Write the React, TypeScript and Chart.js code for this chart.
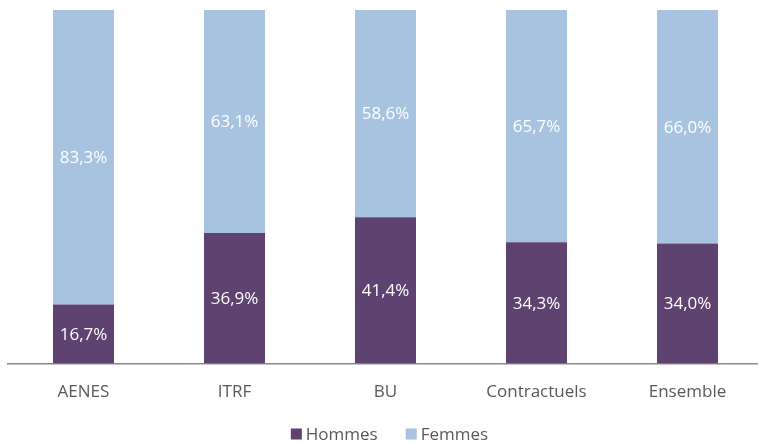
import React, { useEffect, useRef } from "react";
import { Chart, registerables } from "chart.js";

Chart.register(...registerables);

const categories = ["AENES", "ITRF", "BU", "Contractuels", "Ensemble"];
const hommes = [16.7, 36.9, 41.4, 34.3, 34.0];
const femmes = [83.3, 63.1, 58.6, 65.7, 66.0];
const seriesNames = ["Hommes", "Femmes"];

const FONT = "'Open Sans', 'DejaVu Sans', sans-serif";

const valueLabels = {
  id: "valueLabels",
  afterDatasetsDraw(chart: any) {
    const ctx = chart.ctx;
    ctx.save();
    ctx.font = `17px ${FONT}`;
    ctx.fillStyle = "#ffffff";
    ctx.textAlign = "center";
    ctx.textBaseline = "middle";
    chart.data.datasets.forEach((ds: any, di: number) => {
      const meta = chart.getDatasetMeta(di);
      meta.data.forEach((bar: any, i: number) => {
        const v = ds.data[i] as number;
        const { x, y, base } = bar.getProps(["x", "y", "base"], true);
        const txt = v.toFixed(1).replace(".", ",") + "%";
        ctx.fillText(txt, x, (y + base) / 2 + 1);
      });
    });
    ctx.restore();
  },
};

const bottomLegend = {
  id: "bottomLegend",
  afterDraw(chart: any) {
    const ctx = chart.ctx;
    const box = 11;
    const gapText = 4;
    const gapItem = 28;
    ctx.save();
    ctx.font = `17px ${FONT}`;
    ctx.textBaseline = "middle";
    ctx.textAlign = "left";
    const items = chart.data.datasets.map((ds: any) => ({
      label: ds.label as string,
      color: ds.backgroundColor as string,
      w: ctx.measureText(ds.label).width,
    }));
    const total =
      items.reduce((s: number, it: any) => s + box + gapText + it.w, 0) +
      gapItem * (items.length - 1);
    const ca = chart.chartArea;
    let x = (ca.left + ca.right) / 2 + 4 - total / 2;
    const y = 434;
    items.forEach((it: any) => {
      ctx.fillStyle = it.color;
      ctx.fillRect(x, y - box / 2, box, box);
      ctx.fillStyle = "#595959";
      ctx.fillText(it.label, x + box + gapText, y + 1);
      x += box + gapText + it.w + gapItem;
    });
    ctx.restore();
  },
};

export default function App() {
  const ref = useRef<HTMLCanvasElement | null>(null);
  useEffect(() => {
    if (!ref.current) return;
    const chart = new Chart(ref.current, {
      type: "bar",
      data: {
        labels: categories,
        datasets: [
          {
            label: seriesNames[0],
            data: hommes,
            backgroundColor: "#5E4270",
            barPercentage: 0.404,
            categoryPercentage: 1,
          },
          {
            label: seriesNames[1],
            data: femmes,
            backgroundColor: "#A7C3E0",
            barPercentage: 0.404,
            categoryPercentage: 1,
          },
        ],
      },
      options: {
        animation: false,
        responsive: false,
        maintainAspectRatio: false,
        layout: { padding: { left: 8, right: 7, top: 10, bottom: 23 } },
        scales: {
          x: {
            stacked: true,
            grid: { display: false, drawTicks: false },
            border: { display: true, color: "#8a8a8a", width: 1.5 },
            ticks: {
              color: "#595959",
              font: { family: FONT, size: 17 },
              padding: 18,
            },
          },
          y: {
            stacked: true,
            display: false,
            min: 0,
            max: 100,
          },
        },
        plugins: {
          legend: { display: false },
          tooltip: { enabled: false },
        },
      },
      plugins: [valueLabels, bottomLegend],
    });
    return () => chart.destroy();
  }, []);
  return (
    <div
      style={{
        position: "fixed",
        left: 0,
        top: 0,
        width: 758,
        height: 443,
        overflow: "hidden",
        background: "#ffffff",
      }}
    >
      <canvas ref={ref} width={770} height={443} style={{ display: "block" }} />
    </div>
  );
}
